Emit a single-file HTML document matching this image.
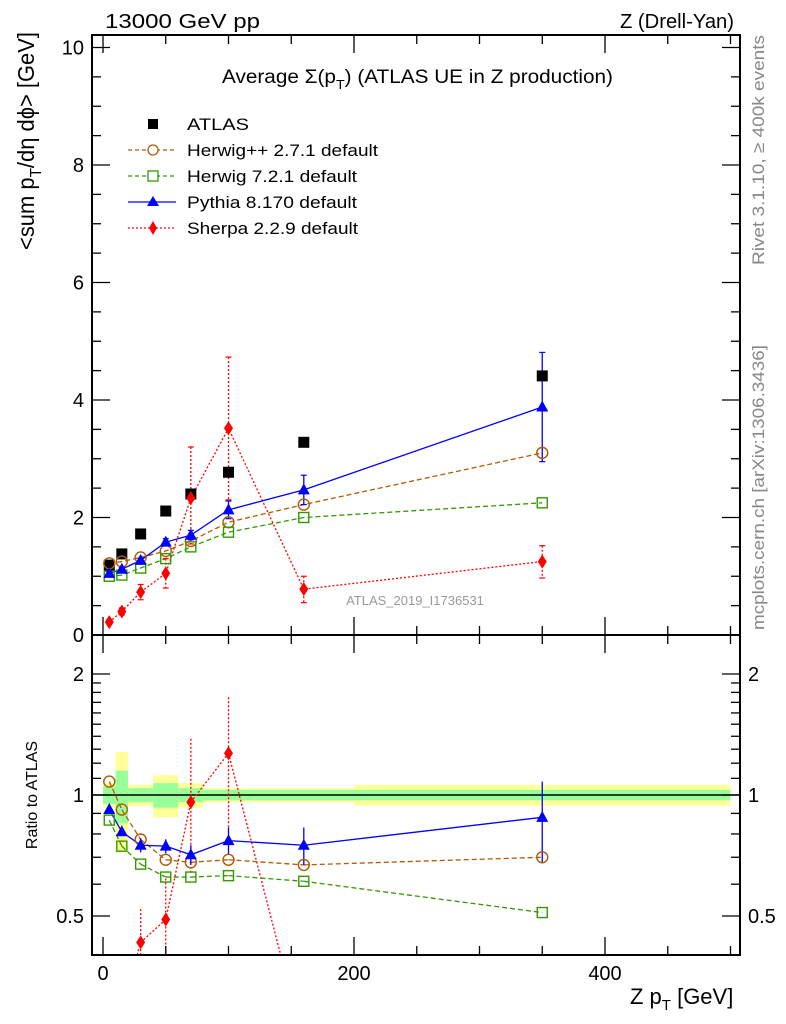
<!DOCTYPE html>
<html><head><meta charset="utf-8"><style>
html,body{margin:0;padding:0;background:#fff;overflow:hidden;width:786px;height:1024px;}
svg{display:block;font-family:"Liberation Sans",sans-serif;}
</style></head><body>
<svg id="c" width="786" height="1024" xmlns="http://www.w3.org/2000/svg">
<g id="bands"></g><g id="grid"></g><g id="series"></g><g id="axes"></g><g id="texts"></g>
</svg>
<script>
const xVals=[5,15,30,50,70,100,160,350];
const atlas=[1.19,1.38,1.72,2.11,2.40,2.77,3.28,4.41];
const herwigpp=[1.22,1.25,1.32,1.43,1.60,1.92,2.22,3.10];
const herwig7=[1.00,1.02,1.14,1.30,1.50,1.75,2.00,2.25];
const pythia=[1.05,1.12,1.27,1.58,1.70,2.13,2.47,3.88];
const pythiaErr=[0.03,0.03,0.04,0.06,0.08,0.15,0.25,0.93];
const sherpa=[0.22,0.40,0.73,1.05,2.33,3.52,0.78,1.25];
const sherpaLo=[0.18,0.34,0.60,0.80,1.55,2.30,0.55,0.97];
const sherpaHi=[0.26,0.46,0.86,1.30,3.20,4.73,1.00,1.52];
const rHpp=[1.08,0.92,0.775,0.69,0.68,0.69,0.67,0.70];
const rH7=[0.866,0.746,0.673,0.625,0.625,0.63,0.61,0.51];
const rPy=[0.92,0.81,0.75,0.746,0.71,0.77,0.75,0.88];
const rPyErr=[0.02,0.02,0.03,0.03,0.04,0.06,0.08,0.2];
const rSh=[0.18,0.29,0.43,0.49,0.96,1.27,0.24,0.28];
const rShLo=[0.15,0.25,0.36,0.38,0.64,0.83,0.17,0.22];
const rShHi=[0.22,0.34,0.52,0.62,1.38,1.75,0.31,0.34];
const binEdges=[0,10,20,40,60,80,120,200,500];
const yellowErr=[0.07,0.28,0.06,0.12,0.07,0.04,0.04,0.06];
const greenErr=[0.05,0.15,0.04,0.07,0.04,0.03,0.03,0.03];
const yTicksMain=[0,2,4,6,8,10];
const xTicks=[0,200,400];
const rTicks=[0.5,1,2];

const NS="http://www.w3.org/2000/svg";
const L=92,R=740,T=35,B=635,RT=635,RB=955;
const X=v=>103+1.255*v;
const Y=v=>635-58.75*v;
const RY=v=>795-121*Math.log2(v);
function mk(parent,tag,attrs,text){const e=document.createElementNS(NS,tag);for(const k in attrs)e.setAttribute(k,attrs[k]);if(text!==undefined)e.textContent=text;document.getElementById(parent).appendChild(e);return e;}
function cy(v){return Math.max(RT,Math.min(RB,v));}
const inR=y=>y>=RT&&y<=RB;

for(let i=0;i<binEdges.length-1;i++){
  const x1=Math.max(L,X(binEdges[i])),x2=Math.min(R,X(binEdges[i+1]));
  let e=mk('bands','rect',{x:x1,y:RY(1+yellowErr[i]),width:x2-x1,height:RY(1-yellowErr[i])-RY(1+yellowErr[i]),fill:'#ffff99'});
  
  
  e=mk('bands','rect',{x:x1,y:RY(1+greenErr[i]),width:x2-x1,height:RY(1-greenErr[i])-RY(1+greenErr[i]),fill:'#99ff99'});
  
  
}
let ln=mk('bands','line',{x1:L,x2:R,y1:RY(1),y2:RY(1),stroke:'#000','stroke-width':1.5});



function poly(vals,yf,color,dash,name){
  const pts=xVals.map((x,i)=>X(x)+','+yf(vals[i])).join(' ');
  const e=mk('series','polyline',{points:pts,fill:'none',stroke:color,'stroke-width':1.3,'stroke-dasharray':dash});
  
  
}
function marker(type,cx,cyy,color,name){
  let e;
  if(type==='sq') e=mk('series','rect',{x:cx-5.5,y:cyy-5.5,width:11,height:11,fill:'#000'});
  else if(type==='circ') e=mk('series','circle',{cx:cx,cy:cyy,r:5.5,fill:'none',stroke:color,'stroke-width':1.4});
  else if(type==='osq') e=mk('series','rect',{x:cx-5,y:cyy-5,width:10,height:10,fill:'none',stroke:color,'stroke-width':1.4});
  else if(type==='tri') e=mk('series','polygon',{points:`${cx},${cyy-6.5} ${cx-6},${cyy+4.5} ${cx+6},${cyy+4.5}`,fill:color});
  else e=mk('series','polygon',{points:`${cx},${cyy-7} ${cx-4.5},${cyy} ${cx},${cyy+7} ${cx+4.5},${cyy}`,fill:color});
  
  
}
function err(cx,y1,y2,color,dash){
  const e=mk('series','line',{x1:cx,x2:cx,y1:y1,y2:y2,stroke:color,'stroke-width':1.3,'stroke-dasharray':dash||'none'});
  
  
  mk('series','line',{x1:cx-3,x2:cx+3,y1:y1,y2:y1,stroke:color,'stroke-width':1.2});
  mk('series','line',{x1:cx-3,x2:cx+3,y1:y2,y2:y2,stroke:color,'stroke-width':1.2});
}
poly(sherpa,Y,'#ff0000','2,2','sherpa-line');
poly(herwigpp,Y,'#b35900','5,3','herwigpp-line');
poly(herwig7,Y,'#339900','5,3','herwig7-line');
poly(pythia,Y,'#0000ff','none','pythia-line');
xVals.forEach((x,i)=>{
  err(X(x),Y(sherpaHi[i]),Y(sherpaLo[i]),'#ff0000','2,2');
  err(X(x),Y(pythia[i]+pythiaErr[i]),Y(pythia[i]-pythiaErr[i]),'#0000ff');
  marker('sq',X(x),Y(atlas[i]),'#000','atlas-point');
  marker('circ',X(x),Y(herwigpp[i]),'#b35900','herwigpp-point');
  marker('osq',X(x),Y(herwig7[i]),'#339900','herwig7-point');
  marker('tri',X(x),Y(pythia[i]),'#0000ff','pythia-point');
  marker('dia',X(x),Y(sherpa[i]),'#ff0000','sherpa-point');
});
// ratio lines clipped manually to panel
function rline(vals,color,dash,name){
  for(let i=0;i<xVals.length-1;i++){
    let x1=X(xVals[i]),y1=RY(vals[i]),x2=X(xVals[i+1]),y2=RY(vals[i+1]);
    if(!inR(y1)&&!inR(y2))continue;
    if(!inR(y1)){const yc=cy(y1);x1=x1+(x2-x1)*(yc-y1)/(y2-y1);y1=yc;}
    if(!inR(y2)){const yc=cy(y2);x2=x1+(x2-x1)*(yc-y1)/(y2-y1);y2=yc;}
    const e=mk('series','line',{x1,y1,x2,y2,stroke:color,'stroke-width':1.3,'stroke-dasharray':dash});
    
    
  }
}
rline(rSh,'#ff0000','2,2','sherpa-ratio-line');
rline(rHpp,'#b35900','5,3','herwigpp-ratio-line');
rline(rH7,'#339900','5,3','herwig7-ratio-line');
rline(rPy,'#0000ff','none','pythia-ratio-line');
xVals.forEach((x,i)=>{
  const c=X(x);
  if(inR(RY(rShLo[i]))||inR(RY(rShHi[i]))){
    const e=mk('series','line',{x1:c,x2:c,y1:cy(RY(rShHi[i])),y2:cy(RY(rShLo[i])),stroke:'#ff0000','stroke-width':1.3,'stroke-dasharray':'2,2'});
    
    
  }
  const e2=mk('series','line',{x1:c,x2:c,y1:cy(RY(rPy[i]+rPyErr[i])),y2:cy(RY(rPy[i]-rPyErr[i])),stroke:'#0000ff','stroke-width':1.3});
  
  
  if(inR(RY(rHpp[i])))marker('circ',c,RY(rHpp[i]),'#b35900','herwigpp-ratio-point');
  if(inR(RY(rH7[i])))marker('osq',c,RY(rH7[i]),'#339900','herwig7-ratio-point');
  if(inR(RY(rPy[i])))marker('tri',c,RY(rPy[i]),'#0000ff','pythia-ratio-point');
  if(inR(RY(rSh[i])))marker('dia',c,RY(rSh[i]),'#ff0000','sherpa-ratio-point');
});
let f=mk('axes','rect',{x:L,y:T,width:R-L,height:B-T,fill:'none',stroke:'#000','stroke-width':2});


f=mk('axes','rect',{x:L,y:RT,width:R-L,height:RB-RT,fill:'none',stroke:'#000','stroke-width':2});


function tick(x1,y1,x2,y2){mk('axes','line',{x1,y1,x2,y2,stroke:'#000','stroke-width':1.3});}
for(let v=0;v<=10.2;v+=0.5){const y=Y(v);const len=(Math.abs(v%2)<0.01)?18:9;tick(L,y,L+len,y);tick(R,y,R-len,y);}
yTicksMain.forEach(v=>{const e=mk('texts','text',{x:L-8,y:Y(v)+7,'text-anchor':'end','font-size':20},String(v));});
for(let v=0;v<=500;v+=50){const x=X(v);const len=(v%200===0)?18:9;tick(x,B,x,B-len);tick(x,T,x,T+len);tick(x,RB,x,RB-len);tick(x,RT,x,RT+len);}
xTicks.forEach(v=>{const e=mk('texts','text',{x:X(v),y:980,'text-anchor':'middle','font-size':20},String(v));});
for(let k=4;k<=25;k++){const v=k<=20?k/10:(k-20)*0.5+2;const y=RY(v);if(y<RT||y>RB)continue;const maj=rTicks.some(t=>Math.abs(t-v)<0.01);const len=maj?18:9;tick(L,y,L+len,y);tick(R,y,R-len,y);}
rTicks.forEach(v=>{let e=mk('texts','text',{x:L-8,y:RY(v)+7,'text-anchor':'end','font-size':20},String(v));
e=mk('texts','text',{x:R+8,y:RY(v)+7,'text-anchor':'start','font-size':20},String(v));});
const legNames=['ATLAS','Herwig++ 2.7.1 default','Herwig 7.2.1 default','Pythia 8.170 default','Sherpa 2.2.9 default'];
const legCols=['#000','#b35900','#339900','#0000ff','#ff0000'];
const legDash=['','4,3','4,3','none','2,2'];
const legMk=['sq','circ','osq','tri','dia'];
const legLen=[62,191,170,170,171];
legNames.forEach((n,i)=>{
  const y=124+i*26;
  if(i>0){const e=mk('series','line',{x1:128,x2:176,y1:y,y2:y,stroke:legCols[i],'stroke-width':1.3,'stroke-dasharray':legDash[i]});}
  if(i===0){const e=mk('series','rect',{x:148,y:y-5,width:10,height:10,fill:'#000'});}
  else if(legMk[i]==='circ'){mk('series','circle',{cx:153,cy:y,r:5,fill:'#fff',stroke:legCols[i],'stroke-width':1.3});}
  else if(legMk[i]==='osq'){mk('series','rect',{x:148,y:y-5,width:10,height:10,fill:'#fff',stroke:legCols[i],'stroke-width':1.3});}
  else if(legMk[i]==='tri'){mk('series','polygon',{points:`153,${y-6} 147,${y+4} 159,${y+4}`,fill:legCols[i]});}
  else {mk('series','polygon',{points:`153,${y-7} 149,${y} 153,${y+7} 157,${y}`,fill:legCols[i]});}
  const t=mk('texts','text',{x:187,y:y+6,'font-size':17,textLength:legLen[i],lengthAdjust:'spacingAndGlyphs'},n);
  
  
});
const S=document.getElementById('c');
S.insertAdjacentHTML('beforeend',`
<text x="105" y="28" font-size="20" textLength="155" lengthAdjust="spacingAndGlyphs">13000 GeV pp</text>
<text x="620" y="28" font-size="20" textLength="114" lengthAdjust="spacingAndGlyphs">Z (Drell-Yan)</text>
<text x="222" y="83" font-size="19" textLength="391" lengthAdjust="spacingAndGlyphs">Average Σ(p<tspan font-size="13" dy="6">T</tspan><tspan dy="-6">) (ATLAS UE in Z production)</tspan></text>
<text x="415" y="605" font-size="13" fill="#999" text-anchor="middle">ATLAS_2019_I1736531</text>
<text transform="translate(764,265) rotate(-90)" font-size="17" fill="#888" textLength="230" lengthAdjust="spacingAndGlyphs">Rivet 3.1.10, ≥ 400k events</text>
<text transform="translate(764,630) rotate(-90)" font-size="17" fill="#888" textLength="285" lengthAdjust="spacingAndGlyphs">mcplots.cern.ch [arXiv:1306.3436]</text>
<text transform="translate(34,250) rotate(-90)" font-size="23" textLength="218" lengthAdjust="spacingAndGlyphs">&lt;sum p<tspan font-size="16" dy="7">T</tspan><tspan dy="-7">/dη dϕ&gt; [GeV]</tspan></text>
<text transform="translate(37,795) rotate(-90)" font-size="16" text-anchor="middle">Ratio to ATLAS</text>
<text x="630" y="1004" font-size="22">Z p<tspan font-size="15" dy="6">T</tspan><tspan dy="-6"> [GeV]</tspan></text>
`);
</script>
</body></html>
